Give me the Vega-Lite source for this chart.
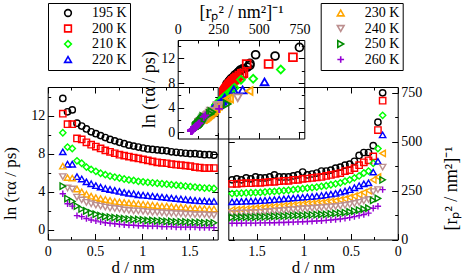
{
"$schema":"https://vega.github.io/schema/vega-lite/v6.json",
"width":463,"height":277,"autosize":"none","padding":0,"background":"white",
"config":{"view":{"stroke":null},
"axis":{"grid":false,"domainColor":"black","domainWidth":1,"tickColor":"black","tickWidth":1,"tickSize":-6,"labelColor":"black","titleColor":"black","labelFont":"Liberation Serif","titleFont":"Liberation Serif","labelFontSize":14,"titleFontSize":18,"titleFontWeight":"normal","labelFlush":false,"labelOverlap":false,"zindex":0},
"text":{"font":"Liberation Serif","fontSize":18,"color":"black"}},
"datasets":{"pts":[
{"T":"195 K","d":0.16,"t":13.8,"r":750},{"T":"195 K","d":0.21,"t":12.4,"r":600},{"T":"195 K","d":0.26,"t":12.6,"r":480},{"T":"195 K","d":0.31,"t":11.2,"r":445},{"T":"195 K","d":0.36,"t":10.9,"r":445},{"T":"195 K","d":0.41,"t":10.6,"r":430},{"T":"195 K","d":0.46,"t":10.3,"r":400},{"T":"195 K","d":0.51,"t":10.1,"r":385},{"T":"195 K","d":0.56,"t":9.9,"r":380},{"T":"195 K","d":0.61,"t":9.7,"r":370},{"T":"195 K","d":0.66,"t":9.5,"r":365},{"T":"195 K","d":0.71,"t":9.35,"r":355},{"T":"195 K","d":0.76,"t":9.2,"r":350},{"T":"195 K","d":0.81,"t":9.05,"r":350},{"T":"195 K","d":0.86,"t":8.9,"r":340},{"T":"195 K","d":0.91,"t":8.8,"r":335},{"T":"195 K","d":0.96,"t":8.7,"r":330},{"T":"195 K","d":1.01,"t":8.6,"r":345},{"T":"195 K","d":1.06,"t":8.5,"r":330},{"T":"195 K","d":1.11,"t":8.45,"r":325},{"T":"195 K","d":1.16,"t":8.4,"r":320},{"T":"195 K","d":1.21,"t":8.35,"r":320},{"T":"195 K","d":1.26,"t":8.3,"r":320},{"T":"195 K","d":1.31,"t":8.2,"r":330},{"T":"195 K","d":1.36,"t":8.15,"r":320},{"T":"195 K","d":1.41,"t":8.1,"r":315},{"T":"195 K","d":1.46,"t":8.05,"r":315},{"T":"195 K","d":1.51,"t":8.0,"r":320},{"T":"195 K","d":1.56,"t":8.0,"r":310},{"T":"195 K","d":1.61,"t":7.95,"r":315},{"T":"195 K","d":1.66,"t":7.9,"r":305},{"T":"195 K","d":1.71,"t":7.9,"r":310},{"T":"195 K","d":1.76,"t":7.85,"r":305},
{"T":"200 K","d":0.16,"t":12.2,"r":710},{"T":"200 K","d":0.21,"t":11.1,"r":560},{"T":"200 K","d":0.26,"t":11.1,"r":425},{"T":"200 K","d":0.31,"t":9.6,"r":405},{"T":"200 K","d":0.36,"t":9.5,"r":395},{"T":"200 K","d":0.41,"t":9.2,"r":380},{"T":"200 K","d":0.46,"t":8.95,"r":365},{"T":"200 K","d":0.51,"t":8.75,"r":355},{"T":"200 K","d":0.56,"t":8.55,"r":350},{"T":"200 K","d":0.61,"t":8.35,"r":340},{"T":"200 K","d":0.66,"t":8.2,"r":335},{"T":"200 K","d":0.71,"t":8.05,"r":330},{"T":"200 K","d":0.76,"t":7.9,"r":325},{"T":"200 K","d":0.81,"t":7.8,"r":320},{"T":"200 K","d":0.86,"t":7.7,"r":318},{"T":"200 K","d":0.91,"t":7.6,"r":315},{"T":"200 K","d":0.96,"t":7.5,"r":312},{"T":"200 K","d":1.01,"t":7.4,"r":310},{"T":"200 K","d":1.06,"t":7.3,"r":305},{"T":"200 K","d":1.11,"t":7.2,"r":305},{"T":"200 K","d":1.16,"t":7.1,"r":300},{"T":"200 K","d":1.21,"t":7.05,"r":300},{"T":"200 K","d":1.26,"t":7.0,"r":298},{"T":"200 K","d":1.31,"t":6.9,"r":295},{"T":"200 K","d":1.36,"t":6.85,"r":295},{"T":"200 K","d":1.41,"t":6.8,"r":292},{"T":"200 K","d":1.46,"t":6.75,"r":290},{"T":"200 K","d":1.51,"t":6.7,"r":290},{"T":"200 K","d":1.56,"t":6.6,"r":288},{"T":"200 K","d":1.61,"t":6.55,"r":288},{"T":"200 K","d":1.66,"t":6.5,"r":287},{"T":"200 K","d":1.71,"t":6.5,"r":285},{"T":"200 K","d":1.76,"t":6.5,"r":285},
{"T":"210 K","d":0.16,"t":10.2,"r":635},{"T":"210 K","d":0.21,"t":8.7,"r":465},{"T":"210 K","d":0.26,"t":8.55,"r":390},{"T":"210 K","d":0.31,"t":7.25,"r":350},{"T":"210 K","d":0.36,"t":7.0,"r":340},{"T":"210 K","d":0.41,"t":6.6,"r":325},{"T":"210 K","d":0.46,"t":6.35,"r":315},{"T":"210 K","d":0.51,"t":6.15,"r":305},{"T":"210 K","d":0.56,"t":5.95,"r":298},{"T":"210 K","d":0.61,"t":5.8,"r":290},{"T":"210 K","d":0.66,"t":5.65,"r":285},{"T":"210 K","d":0.71,"t":5.55,"r":280},{"T":"210 K","d":0.76,"t":5.45,"r":275},{"T":"210 K","d":0.81,"t":5.35,"r":272},{"T":"210 K","d":0.86,"t":5.25,"r":268},{"T":"210 K","d":0.91,"t":5.2,"r":265},{"T":"210 K","d":0.96,"t":5.1,"r":263},{"T":"210 K","d":1.01,"t":5.05,"r":260},{"T":"210 K","d":1.06,"t":5.0,"r":258},{"T":"210 K","d":1.11,"t":4.95,"r":255},{"T":"210 K","d":1.16,"t":4.9,"r":252},{"T":"210 K","d":1.21,"t":4.85,"r":250},{"T":"210 K","d":1.26,"t":4.8,"r":248},{"T":"210 K","d":1.31,"t":4.75,"r":246},{"T":"210 K","d":1.36,"t":4.7,"r":245},{"T":"210 K","d":1.41,"t":4.65,"r":243},{"T":"210 K","d":1.46,"t":4.6,"r":241},{"T":"210 K","d":1.51,"t":4.55,"r":240},{"T":"210 K","d":1.56,"t":4.5,"r":239},{"T":"210 K","d":1.61,"t":4.45,"r":238},{"T":"210 K","d":1.66,"t":4.4,"r":237},{"T":"210 K","d":1.71,"t":4.4,"r":236},{"T":"210 K","d":1.76,"t":4.35,"r":235},
{"T":"220 K","d":0.16,"t":8.2,"r":535},{"T":"220 K","d":0.21,"t":6.9,"r":400},{"T":"220 K","d":0.26,"t":6.9,"r":345},{"T":"220 K","d":0.31,"t":5.6,"r":290},{"T":"220 K","d":0.36,"t":5.35,"r":285},{"T":"220 K","d":0.41,"t":5.05,"r":275},{"T":"220 K","d":0.46,"t":4.85,"r":265},{"T":"220 K","d":0.51,"t":4.65,"r":255},{"T":"220 K","d":0.56,"t":4.5,"r":248},{"T":"220 K","d":0.61,"t":4.35,"r":242},{"T":"220 K","d":0.66,"t":4.25,"r":236},{"T":"220 K","d":0.71,"t":4.15,"r":232},{"T":"220 K","d":0.76,"t":4.05,"r":228},{"T":"220 K","d":0.81,"t":3.95,"r":225},{"T":"220 K","d":0.86,"t":3.85,"r":222},{"T":"220 K","d":0.91,"t":3.8,"r":220},{"T":"220 K","d":0.96,"t":3.7,"r":218},{"T":"220 K","d":1.01,"t":3.65,"r":216},{"T":"220 K","d":1.06,"t":3.6,"r":214},{"T":"220 K","d":1.11,"t":3.55,"r":212},{"T":"220 K","d":1.16,"t":3.5,"r":210},{"T":"220 K","d":1.21,"t":3.45,"r":208},{"T":"220 K","d":1.26,"t":3.4,"r":206},{"T":"220 K","d":1.31,"t":3.35,"r":204},{"T":"220 K","d":1.36,"t":3.3,"r":202},{"T":"220 K","d":1.41,"t":3.25,"r":200},{"T":"220 K","d":1.46,"t":3.2,"r":199},{"T":"220 K","d":1.51,"t":3.15,"r":198},{"T":"220 K","d":1.56,"t":3.1,"r":197},{"T":"220 K","d":1.61,"t":3.05,"r":196},{"T":"220 K","d":1.66,"t":3.05,"r":195},{"T":"220 K","d":1.71,"t":3.0,"r":194},{"T":"220 K","d":1.76,"t":3.0,"r":193},
{"T":"230 K","d":0.16,"t":6.7,"r":440},{"T":"230 K","d":0.21,"t":5.5,"r":320},{"T":"230 K","d":0.26,"t":5.45,"r":305},{"T":"230 K","d":0.31,"t":4.3,"r":250},{"T":"230 K","d":0.36,"t":4.0,"r":240},{"T":"230 K","d":0.41,"t":3.75,"r":230},{"T":"230 K","d":0.46,"t":3.55,"r":222},{"T":"230 K","d":0.51,"t":3.4,"r":215},{"T":"230 K","d":0.56,"t":3.3,"r":208},{"T":"230 K","d":0.61,"t":3.2,"r":203},{"T":"230 K","d":0.66,"t":3.1,"r":198},{"T":"230 K","d":0.71,"t":3.0,"r":195},{"T":"230 K","d":0.76,"t":2.95,"r":192},{"T":"230 K","d":0.81,"t":2.9,"r":189},{"T":"230 K","d":0.86,"t":2.85,"r":187},{"T":"230 K","d":0.91,"t":2.8,"r":185},{"T":"230 K","d":0.96,"t":2.75,"r":183},{"T":"230 K","d":1.01,"t":2.7,"r":181},{"T":"230 K","d":1.06,"t":2.65,"r":179},{"T":"230 K","d":1.11,"t":2.6,"r":176},{"T":"230 K","d":1.16,"t":2.55,"r":174},{"T":"230 K","d":1.21,"t":2.5,"r":172},{"T":"230 K","d":1.26,"t":2.5,"r":170},{"T":"230 K","d":1.31,"t":2.45,"r":168},{"T":"230 K","d":1.36,"t":2.4,"r":166},{"T":"230 K","d":1.41,"t":2.4,"r":164},{"T":"230 K","d":1.46,"t":2.35,"r":162},{"T":"230 K","d":1.51,"t":2.3,"r":160},{"T":"230 K","d":1.56,"t":2.3,"r":158},{"T":"230 K","d":1.61,"t":2.25,"r":156},{"T":"230 K","d":1.66,"t":2.25,"r":155},{"T":"230 K","d":1.71,"t":2.2,"r":153},{"T":"230 K","d":1.76,"t":2.2,"r":152},
{"T":"240 K","d":0.16,"t":5.6,"r":370},{"T":"240 K","d":0.21,"t":4.4,"r":255},{"T":"240 K","d":0.26,"t":4.3,"r":245},{"T":"240 K","d":0.31,"t":3.45,"r":205},{"T":"240 K","d":0.36,"t":3.15,"r":198},{"T":"240 K","d":0.41,"t":2.9,"r":190},{"T":"240 K","d":0.46,"t":2.75,"r":184},{"T":"240 K","d":0.51,"t":2.6,"r":179},{"T":"240 K","d":0.56,"t":2.5,"r":175},{"T":"240 K","d":0.61,"t":2.4,"r":172},{"T":"240 K","d":0.66,"t":2.3,"r":169},{"T":"240 K","d":0.71,"t":2.25,"r":167},{"T":"240 K","d":0.76,"t":2.2,"r":165},{"T":"240 K","d":0.81,"t":2.1,"r":163},{"T":"240 K","d":0.86,"t":2.05,"r":161},{"T":"240 K","d":0.91,"t":2.0,"r":160},{"T":"240 K","d":0.96,"t":2.0,"r":158},{"T":"240 K","d":1.01,"t":1.95,"r":157},{"T":"240 K","d":1.06,"t":1.9,"r":155},{"T":"240 K","d":1.11,"t":1.85,"r":153},{"T":"240 K","d":1.16,"t":1.85,"r":151},{"T":"240 K","d":1.21,"t":1.8,"r":149},{"T":"240 K","d":1.26,"t":1.75,"r":147},{"T":"240 K","d":1.31,"t":1.75,"r":145},{"T":"240 K","d":1.36,"t":1.7,"r":143},{"T":"240 K","d":1.41,"t":1.7,"r":141},{"T":"240 K","d":1.46,"t":1.65,"r":139},{"T":"240 K","d":1.51,"t":1.65,"r":138},{"T":"240 K","d":1.56,"t":1.6,"r":137},{"T":"240 K","d":1.61,"t":1.6,"r":136},{"T":"240 K","d":1.66,"t":1.6,"r":135},{"T":"240 K","d":1.71,"t":1.55,"r":134},{"T":"240 K","d":1.76,"t":1.55,"r":133},
{"T":"250 K","d":0.16,"t":4.6,"r":305},{"T":"250 K","d":0.21,"t":3.3,"r":210},{"T":"250 K","d":0.26,"t":3.0,"r":200},{"T":"250 K","d":0.31,"t":2.5,"r":160},{"T":"250 K","d":0.36,"t":2.2,"r":155},{"T":"250 K","d":0.41,"t":2.0,"r":150},{"T":"250 K","d":0.46,"t":1.8,"r":145},{"T":"250 K","d":0.51,"t":1.65,"r":141},{"T":"250 K","d":0.56,"t":1.5,"r":138},{"T":"250 K","d":0.61,"t":1.4,"r":135},{"T":"250 K","d":0.66,"t":1.35,"r":133},{"T":"250 K","d":0.71,"t":1.3,"r":131},{"T":"250 K","d":0.76,"t":1.25,"r":129},{"T":"250 K","d":0.81,"t":1.2,"r":128},{"T":"250 K","d":0.86,"t":1.15,"r":127},{"T":"250 K","d":0.91,"t":1.1,"r":126},{"T":"250 K","d":0.96,"t":1.1,"r":125},{"T":"250 K","d":1.01,"t":1.05,"r":124},{"T":"250 K","d":1.06,"t":1.0,"r":123},{"T":"250 K","d":1.11,"t":1.0,"r":122},{"T":"250 K","d":1.16,"t":0.95,"r":121},{"T":"250 K","d":1.21,"t":0.95,"r":120},{"T":"250 K","d":1.26,"t":0.9,"r":119},{"T":"250 K","d":1.31,"t":0.9,"r":118},{"T":"250 K","d":1.36,"t":0.85,"r":117},{"T":"250 K","d":1.41,"t":0.85,"r":116},{"T":"250 K","d":1.46,"t":0.85,"r":116},{"T":"250 K","d":1.51,"t":0.8,"r":115},{"T":"250 K","d":1.56,"t":0.8,"r":115},{"T":"250 K","d":1.61,"t":0.8,"r":114},{"T":"250 K","d":1.66,"t":0.75,"r":114},{"T":"250 K","d":1.71,"t":0.75,"r":113},{"T":"250 K","d":1.76,"t":0.75,"r":113},
{"T":"260 K","d":0.16,"t":3.8,"r":255},{"T":"260 K","d":0.21,"t":2.75,"r":170},{"T":"260 K","d":0.26,"t":2.5,"r":160},{"T":"260 K","d":0.31,"t":1.5,"r":135},{"T":"260 K","d":0.36,"t":1.4,"r":128},{"T":"260 K","d":0.41,"t":1.2,"r":122},{"T":"260 K","d":0.46,"t":1.05,"r":117},{"T":"260 K","d":0.51,"t":0.95,"r":112},{"T":"260 K","d":0.56,"t":0.85,"r":108},{"T":"260 K","d":0.61,"t":0.75,"r":105},{"T":"260 K","d":0.66,"t":0.7,"r":102},{"T":"260 K","d":0.71,"t":0.65,"r":100},{"T":"260 K","d":0.76,"t":0.6,"r":98},{"T":"260 K","d":0.81,"t":0.55,"r":96},{"T":"260 K","d":0.86,"t":0.5,"r":95},{"T":"260 K","d":0.91,"t":0.5,"r":93},{"T":"260 K","d":0.96,"t":0.45,"r":92},{"T":"260 K","d":1.01,"t":0.45,"r":91},{"T":"260 K","d":1.06,"t":0.4,"r":90},{"T":"260 K","d":1.11,"t":0.4,"r":89},{"T":"260 K","d":1.16,"t":0.4,"r":88},{"T":"260 K","d":1.21,"t":0.35,"r":87},{"T":"260 K","d":1.26,"t":0.35,"r":87},{"T":"260 K","d":1.31,"t":0.35,"r":86},{"T":"260 K","d":1.36,"t":0.3,"r":86},{"T":"260 K","d":1.41,"t":0.3,"r":85},{"T":"260 K","d":1.46,"t":0.3,"r":85},{"T":"260 K","d":1.51,"t":0.3,"r":84},{"T":"260 K","d":1.56,"t":0.3,"r":84},{"T":"260 K","d":1.61,"t":0.25,"r":84},{"T":"260 K","d":1.66,"t":0.25,"r":83},{"T":"260 K","d":1.71,"t":0.25,"r":83},{"T":"260 K","d":1.76,"t":0.25,"r":83}
]},
"resolve":{"scale":{"x":"independent","y":"independent","color":"independent","shape":"independent"},"axis":{"x":"independent","y":"independent"},"legend":{"color":"independent","shape":"independent"}},
"layer":[
{"data":{"name":"pts"},"transform":[{"filter":{"field":"T","oneOf":["195 K","200 K","210 K","220 K"]}}],
 "mark":{"type":"point","filled":false,"size":40,"strokeWidth":1.4,"opacity":1},
 "encoding":{
  "x":{"field":"d","type":"quantitative","scale":{"domain":[0,1.8],"range":[47.7,217.7],"nice":false,"zero":false},"axis":{"orient":"bottom","offset":-37.5,"values":[0,0.25,0.5,0.75,1,1.25,1.5,1.75],"labelExpr":"datum.value % 0.5 === 0 ? format(datum.value, '~g') : ''","tickSize":{"condition":{"test":"datum.value % 0.5 === 0","value":-6},"value":-3},"labelPadding":10.5,"title":"d / nm","titleFontSize":17,"titleY":33,"titleBaseline":"alphabetic"}},
  "y":{"field":"t","type":"quantitative","scale":{"domain":[-1,15],"range":[239.5,87],"nice":false,"zero":false},"axis":{"orient":"left","offset":-47.7,"values":[0,2,4,6,8,10,12,14],"labelExpr":"datum.value % 4 === 0 ? format(datum.value, '~g') : ''","tickSize":{"condition":{"test":"datum.value % 4 === 0","value":-6},"value":-3},"labelPadding":9,"title":"ln (τα / ps)","titleFontSize":17,"titleX":-28.5,"titleBaseline":"bottom","titleY":183}},
  "color":{"field":"T","type":"nominal","scale":{"domain":["195 K","200 K","210 K","220 K","230 K","240 K","250 K","260 K"],"range":["#000000","#ff0000","#00ff00","#0000ff","#ffa500","#bc8f8f","#008b00","#9400d3"]},"legend":{"orient":"none","legendX":48,"legendY":3,"values":["195 K","200 K","210 K","220 K"],"title":null,"strokeColor":"black","fillColor":"white","padding":3,"symbolOffset":10,"labelOffset":17,"labelFont":"Liberation Serif","labelFontSize":14,"labelColor":"black","symbolSize":45,"symbolStrokeWidth":1.6,"rowPadding":1.5}},
  "shape":{"field":"T","type":"nominal","scale":{"domain":["195 K","200 K","210 K","220 K","230 K","240 K","250 K","260 K"],"range":["circle","square","diamond","triangle-up","triangle-up","triangle-down","triangle-right","M-1,0H1M0,-1V1"]},"legend":{"orient":"none","legendX":48,"legendY":3,"values":["195 K","200 K","210 K","220 K"],"title":null,"strokeColor":"black","fillColor":"white","padding":3,"symbolOffset":10,"labelOffset":17,"labelFont":"Liberation Serif","labelFontSize":14,"labelColor":"black","symbolSize":45,"symbolStrokeWidth":1.6,"rowPadding":1.5}}}},
{"data":{"name":"pts"},"transform":[{"filter":{"field":"T","oneOf":["230 K","240 K","250 K","260 K"]}}],
 "mark":{"type":"point","filled":false,"size":40,"strokeWidth":1.4,"opacity":1},
 "encoding":{
  "x":{"field":"d","type":"quantitative","scale":{"domain":[0,1.8],"range":[47.7,217.7],"nice":false,"zero":false},"axis":{"orient":"top","offset":-87,"values":[0,0.25,0.5,0.75,1,1.25,1.5,1.75],"labels":false,"tickSize":{"condition":{"test":"datum.value % 0.5 === 0","value":-6},"value":-3},"title":null}},
  "y":{"field":"t","type":"quantitative","scale":{"domain":[-1,15],"range":[239.5,87],"nice":false,"zero":false},"axis":{"orient":"right","offset":-245.3,"values":[0,2,4,6,8,10,12,14],"labels":false,"tickSize":{"condition":{"test":"datum.value % 4 === 0","value":-6},"value":-3},"title":null}},
  "color":{"field":"T","type":"nominal","scale":{"domain":["195 K","200 K","210 K","220 K","230 K","240 K","250 K","260 K"],"range":["#000000","#ff0000","#00ff00","#0000ff","#ffa500","#bc8f8f","#008b00","#9400d3"]},"legend":{"orient":"none","legendX":320.7,"legendY":3,"values":["230 K","240 K","250 K","260 K"],"title":null,"strokeColor":"black","fillColor":"white","padding":3,"symbolOffset":10,"labelOffset":17,"labelFont":"Liberation Serif","labelFontSize":14,"labelColor":"black","symbolSize":45,"symbolStrokeWidth":1.6,"rowPadding":1.5}},
  "shape":{"field":"T","type":"nominal","scale":{"domain":["195 K","200 K","210 K","220 K","230 K","240 K","250 K","260 K"],"range":["circle","square","diamond","triangle-up","triangle-up","triangle-down","triangle-right","M-1,0H1M0,-1V1"]},"legend":{"orient":"none","legendX":320.7,"legendY":3,"values":["230 K","240 K","250 K","260 K"],"title":null,"strokeColor":"black","fillColor":"white","padding":3,"symbolOffset":10,"labelOffset":17,"labelFont":"Liberation Serif","labelFontSize":14,"labelColor":"black","symbolSize":45,"symbolStrokeWidth":1.6,"rowPadding":1.5}}}},
{"data":{"name":"pts"},"transform":[{"filter":{"field":"T","oneOf":["195 K","200 K","210 K","220 K"]}}],
 "mark":{"type":"point","filled":false,"size":40,"strokeWidth":1.4,"opacity":1},
 "encoding":{
  "x":{"field":"d","type":"quantitative","scale":{"domain":[0,1.8],"range":[397.7,228.3],"nice":false,"zero":false},"axis":{"orient":"bottom","offset":-37.5,"values":[0,0.25,0.5,0.75,1,1.25,1.5,1.75],"labelExpr":"datum.value % 0.5 === 0 ? format(datum.value, '~g') : ''","tickSize":{"condition":{"test":"datum.value % 0.5 === 0","value":-6},"value":-3},"labelPadding":10.5,"title":"d / nm","titleFontSize":17,"titleY":33,"titleBaseline":"alphabetic"}},
  "y":{"field":"r","type":"quantitative","scale":{"domain":[0,780],"range":[239.5,87],"nice":false,"zero":false},"axis":{"orient":"right","offset":-65.3,"values":[0,125,250,375,500,625,750],"labelExpr":"datum.value % 250 === 0 ? format(datum.value, '~g') : ''","tickSize":{"condition":{"test":"datum.value % 250 === 0","value":-6},"value":-3},"labelPadding":9,"title":"[rₚ² / nm²]⁻¹","titleAngle":270,"titleBaseline":"top","titleX":45,"titleY":188}},
  "color":{"field":"T","type":"nominal","scale":{"domain":["195 K","200 K","210 K","220 K","230 K","240 K","250 K","260 K"],"range":["#000000","#ff0000","#00ff00","#0000ff","#ffa500","#bc8f8f","#008b00","#9400d3"]},"legend":null},
  "shape":{"field":"T","type":"nominal","scale":{"domain":["195 K","200 K","210 K","220 K","230 K","240 K","250 K","260 K"],"range":["circle","square","diamond","triangle-up","triangle-left","triangle-down","triangle-right","M-1,0H1M0,-1V1"]},"legend":null}}},
{"data":{"name":"pts"},"transform":[{"filter":{"field":"T","oneOf":["230 K","240 K","250 K","260 K"]}}],
 "mark":{"type":"point","filled":false,"size":40,"strokeWidth":1.4,"opacity":1},
 "encoding":{
  "x":{"field":"d","type":"quantitative","scale":{"domain":[0,1.8],"range":[397.7,228.3],"nice":false,"zero":false},"axis":{"orient":"top","offset":-87,"values":[0,0.25,0.5,0.75,1,1.25,1.5,1.75],"labels":false,"tickSize":{"condition":{"test":"datum.value % 0.5 === 0","value":-6},"value":-3},"title":null}},
  "y":{"field":"r","type":"quantitative","scale":{"domain":[0,780],"range":[239.5,87],"nice":false,"zero":false},"axis":{"orient":"left","offset":-228.3,"values":[0,125,250,375,500,625,750],"labels":false,"tickSize":{"condition":{"test":"datum.value % 250 === 0","value":-6},"value":-3},"title":null}},
  "color":{"field":"T","type":"nominal","scale":{"domain":["195 K","200 K","210 K","220 K","230 K","240 K","250 K","260 K"],"range":["#000000","#ff0000","#00ff00","#0000ff","#ffa500","#bc8f8f","#008b00","#9400d3"]},"legend":null},
  "shape":{"field":"T","type":"nominal","scale":{"domain":["195 K","200 K","210 K","220 K","230 K","240 K","250 K","260 K"],"range":["circle","square","diamond","triangle-up","triangle-left","triangle-down","triangle-right","M-1,0H1M0,-1V1"]},"legend":null}}},
{"mark":{"type":"rect","fill":"white","stroke":null},
 "encoding":{
  "x":{"datum":0,"type":"quantitative","scale":{"domain":[0,780],"range":[177.7,304.3],"nice":false,"zero":false},"axis":null},
  "x2":{"datum":780},
  "y":{"datum":-1,"type":"quantitative","scale":{"domain":[-1,15],"range":[138.5,40],"nice":false,"zero":false},"axis":null},
  "y2":{"datum":15}}},
{"data":{"name":"pts"},"transform":[{"filter":{"field":"T","oneOf":["195 K","200 K","210 K","220 K"]}}],
 "mark":{"type":"point","filled":false,"size":62,"strokeWidth":1.8,"opacity":1},
 "encoding":{
  "x":{"field":"r","type":"quantitative","scale":{"domain":[0,780],"range":[177.7,304.3],"nice":false,"zero":false},"axis":{"orient":"top","offset":-40,"zindex":1,"values":[0,125,250,375,500,625,750],"labelExpr":"datum.value % 250 === 0 ? format(datum.value, '~g') : ''","tickSize":{"condition":{"test":"datum.value % 250 === 0","value":-6},"value":-3},"labelPadding":10,"title":"[rₚ² / nm²]⁻¹","titleY":-23,"titleBaseline":"alphabetic"}},
  "y":{"field":"t","type":"quantitative","scale":{"domain":[-1,15],"range":[138.5,40],"nice":false,"zero":false},"axis":{"orient":"left","offset":-177.7,"zindex":1,"values":[0,2,4,6,8,10,12,14],"labelExpr":"datum.value % 4 === 0 ? format(datum.value, '~g') : ''","tickSize":{"condition":{"test":"datum.value % 4 === 0","value":-6},"value":-3},"labelPadding":9,"title":"ln (τα / ps)","titlePadding":2}},
  "color":{"field":"T","type":"nominal","scale":{"domain":["195 K","200 K","210 K","220 K","230 K","240 K","250 K","260 K"],"range":["#000000","#ff0000","#00ff00","#0000ff","#ffa500","#bc8f8f","#008b00","#9400d3"]},"legend":null},
  "shape":{"field":"T","type":"nominal","scale":{"domain":["195 K","200 K","210 K","220 K","230 K","240 K","250 K","260 K"],"range":["circle","square","diamond","triangle-up","triangle-left","triangle-down","triangle-right","M-1,0H1M0,-1V1"]},"legend":null}}},
{"data":{"name":"pts"},"transform":[{"filter":{"field":"T","oneOf":["230 K","240 K","250 K","260 K"]}}],
 "mark":{"type":"point","filled":false,"size":62,"strokeWidth":1.8,"opacity":1},
 "encoding":{
  "x":{"field":"r","type":"quantitative","scale":{"domain":[0,780],"range":[177.7,304.3],"nice":false,"zero":false},"axis":{"orient":"bottom","offset":-138.5,"zindex":1,"values":[0,125,250,375,500,625,750],"labels":false,"tickSize":{"condition":{"test":"datum.value % 250 === 0","value":-6},"value":-3},"title":null}},
  "y":{"field":"t","type":"quantitative","scale":{"domain":[-1,15],"range":[138.5,40],"nice":false,"zero":false},"axis":{"orient":"right","offset":-158.7,"zindex":1,"values":[0,2,4,6,8,10,12,14],"labels":false,"tickSize":{"condition":{"test":"datum.value % 4 === 0","value":-6},"value":-3},"title":null}},
  "color":{"field":"T","type":"nominal","scale":{"domain":["195 K","200 K","210 K","220 K","230 K","240 K","250 K","260 K"],"range":["#000000","#ff0000","#00ff00","#0000ff","#ffa500","#bc8f8f","#008b00","#9400d3"]},"legend":null},
  "shape":{"field":"T","type":"nominal","scale":{"domain":["195 K","200 K","210 K","220 K","230 K","240 K","250 K","260 K"],"range":["circle","square","diamond","triangle-up","triangle-left","triangle-down","triangle-right","M-1,0H1M0,-1V1"]},"legend":null}}},
{"mark":{"type":"text","text":"(a)"},
 "encoding":{
  "x":{"datum":0.63,"type":"quantitative","scale":{"domain":[0,1.8],"range":[47.7,217.7],"nice":false,"zero":false},"axis":null},
  "y":{"datum":12.2,"type":"quantitative","scale":{"domain":[-1,15],"range":[239.5,87],"nice":false,"zero":false},"axis":null}}},
{"mark":{"type":"text","text":"(b)"},
 "encoding":{
  "x":{"datum":0.6,"type":"quantitative","scale":{"domain":[0,1.8],"range":[397.7,228.3],"nice":false,"zero":false},"axis":null},
  "y":{"datum":642,"type":"quantitative","scale":{"domain":[0,780],"range":[239.5,87],"nice":false,"zero":false},"axis":null}}},
{"mark":{"type":"text","text":"(c)"},
 "encoding":{
  "x":{"datum":586,"type":"quantitative","scale":{"domain":[0,780],"range":[177.7,304.3],"nice":false,"zero":false},"axis":null},
  "y":{"datum":3.06,"type":"quantitative","scale":{"domain":[-1,15],"range":[138.5,40],"nice":false,"zero":false},"axis":null}}}
]
}
